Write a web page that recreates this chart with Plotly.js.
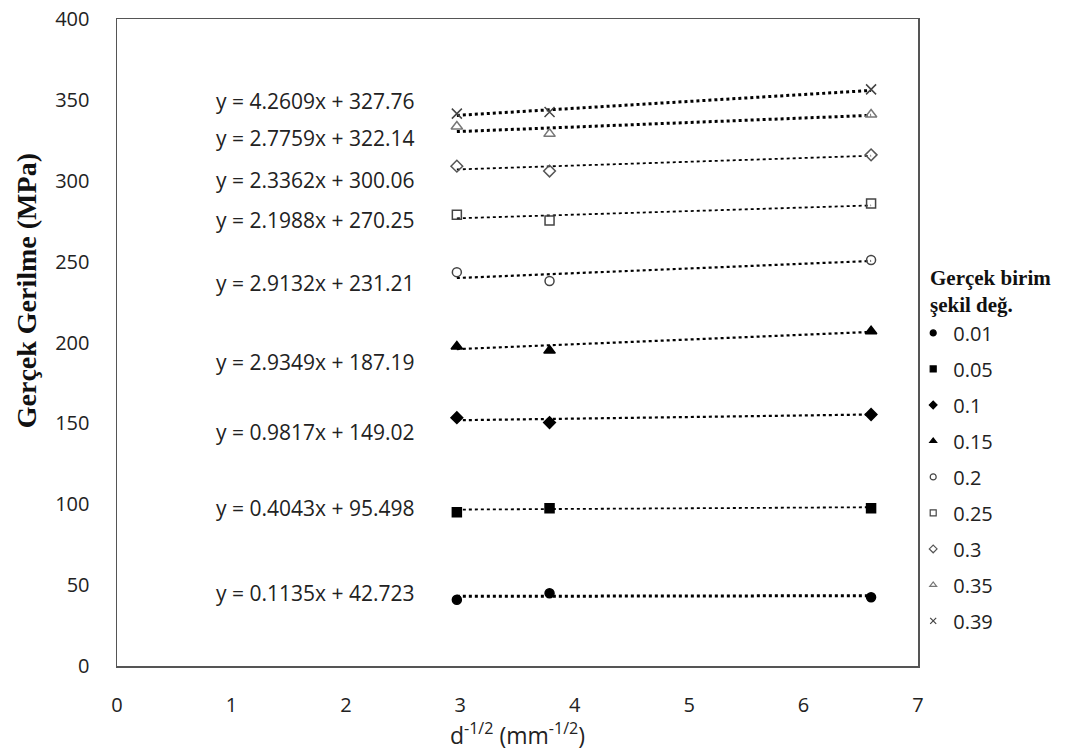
<!DOCTYPE html>
<html><head><meta charset="utf-8">
<script src="https://cdn.plot.ly/plotly-3.0.1.min.js"></script>
<style>body{margin:0;background:#fff}#chart{width:1065px;height:756px}</style>
</head><body><div id="chart"></div>
<script>
// grain size parameter d^-1/2
const xVals = [2.97, 3.78, 6.59];
const seriesNames = ['0.01','0.05','0.1','0.15','0.2','0.25','0.3','0.35','0.39'];
const s001 = [41, 45, 42.5];
const s005 = [95, 97.5, 97.5];
const s010 = [153.5, 150.5, 155.5];
const s015 = [197.5, 195, 207];
const s020 = [243.5, 238, 251];
const s025 = [279, 275.5, 286];
const s030 = [309, 306, 316];
const s035 = [333.5, 329, 341];
const s039 = [341.5, 342.5, 356.5];
const slopes = [0.1135, 0.4043, 0.9817, 2.9349, 2.9132, 2.1988, 2.3362, 2.7759, 4.2609];
const intercepts = [42.723, 95.498, 149.02, 187.19, 231.21, 270.25, 300.06, 322.14, 327.76];
const eqLabels = ['y = 0.1135x + 42.723','y = 0.4043x + 95.498','y = 0.9817x + 149.02','y = 2.9349x + 187.19',
  'y = 2.9132x + 231.21','y = 2.1988x + 270.25','y = 2.3362x + 300.06','y = 2.7759x + 322.14','y = 4.2609x + 327.76'];
const eqLabelY = [45.1, 97.7, 144.7, 187.9, 236.8, 275.7, 300.5, 326.5, 349.0];

const allSeries = [s001,s005,s010,s015,s020,s025,s030,s035,s039];
const symbols = ['circle','square','diamond','triangle-up','circle-open','square-open','diamond-open','triangle-up-open','x-thin-open'];
const mColors = ['#000','#000','#000','#000','#444','#444','#555','#777','#444'];
const mSizes = [9,9,9,10,9,9,9,10,10];
const lineW = [3,1.8,2.2,2.2,2.2,1.8,1.8,3,3];

const traces = [];
allSeries.forEach((ys,i)=>{
  const x0 = xVals[0], x1 = xVals[xVals.length-1];
  traces.push({x:[x0,x1], y:[slopes[i]*x0+intercepts[i], slopes[i]*x1+intercepts[i]], mode:'lines',
    line:{color:'#000', width:lineW[i], dash:'dot'}, showlegend:false, hoverinfo:'skip'});
});
allSeries.forEach((ys,i)=>{
  traces.push({x:xVals, y:ys, mode:'markers', name:seriesNames[i], showlegend:false,
    marker:{symbol:symbols[i], color:mColors[i], size:mSizes[i], line:{color:mColors[i], width:1.5}}});
});
// legend entries (smaller markers, as in the reference legend)
allSeries.forEach((ys,i)=>{
  traces.push({x:[null], y:[null], mode:'markers', name:seriesNames[i], legendgroup:'g'+i,
    marker:{symbol:symbols[i], color:mColors[i], size:6, line:{color:mColors[i], width:1.2}}});
});

const annotations = eqLabels.map((t,i)=>({x:0.848, y:eqLabelY[i], xref:'x', yref:'y', text:t, showarrow:false,
  xanchor:'left', yanchor:'middle', font:{family:'Open Sans', size:21, color:'#222'}}));
annotations.push({xref:'paper', yref:'paper', x:-0.113, y:0.58, text:'Gerçek Gerilme (MPa)', textangle:-90,
  showarrow:false, xanchor:'center', yanchor:'middle', font:{family:'Liberation Serif', size:28, color:'#111', weight:'bold'}});
annotations.push({xref:'paper', yref:'paper', x:1.0125, y:0.622, text:'<b>Gerçek birim<br>şekil değ.</b>',
  showarrow:false, xanchor:'left', yanchor:'top', align:'left', font:{family:'Liberation Serif', size:21, color:'#111'}});

const layout = {
  width:1065, height:756, margin:{l:117, r:147, t:19, b:90},
  paper_bgcolor:'#fff', plot_bgcolor:'#fff', showlegend:true,
  xaxis:{range:[0,7], dtick:1, showgrid:false, zeroline:false, showline:true, mirror:true, linecolor:'#555', linewidth:1.5,
    ticks:'', ticklabelstandoff:20, tickfont:{family:'Open Sans', size:20, color:'#222'},
    title:{text:'d<sup>-1/2</sup> (mm<sup>-1/2</sup>)', font:{family:'Open Sans', size:23, color:'#222'}, standoff:10}},
  yaxis:{range:[0,400], dtick:50, showgrid:false, zeroline:false, showline:true, mirror:true, linecolor:'#555', linewidth:1.5,
    ticks:'', ticklabelstandoff:22, tickfont:{family:'Open Sans', size:20, color:'#222'}},
  legend:{x:0.994, y:0.545, xanchor:'left', yanchor:'top', bgcolor:'rgba(0,0,0,0)', traceorder:'grouped', tracegroupgap:7,
    font:{family:'Open Sans', size:20, color:'#222'}, itemwidth:30},
  annotations:annotations
};
Plotly.newPlot('chart', traces, layout, {displayModeBar:false, staticPlot:true});
</script></body></html>
